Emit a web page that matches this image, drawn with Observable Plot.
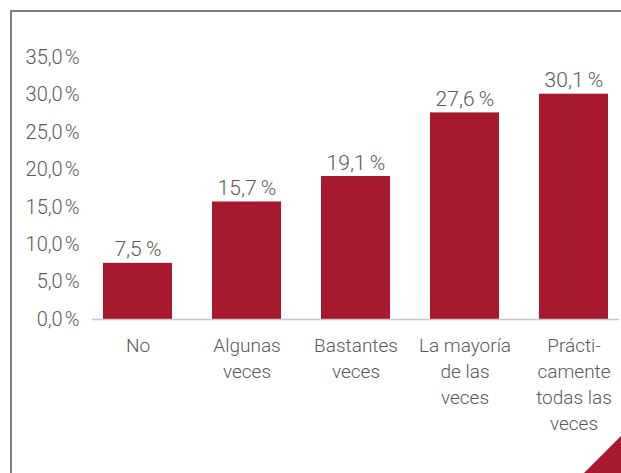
<!DOCTYPE html>
<html>
<head>
<meta charset="utf-8">
<script src="https://cdn.jsdelivr.net/npm/d3@7"></script>
<script src="https://cdn.jsdelivr.net/npm/@observablehq/plot@0.6"></script>
<style>
  html, body { margin: 0; padding: 0; background: #fff; }
  #wrap { position: relative; width: 621px; height: 473px; overflow: hidden; }
  #frame { position: absolute; left: 10px; top: 10px; right: -5px; bottom: -5px;
           border-left: 2px solid #7f7f7f; border-top: 2px solid #7f7f7f; }
  #chart { position: absolute; left: 0; top: 0; }
  svg text { font-family: Roboto, "Liberation Sans", sans-serif; font-weight: 300; }
</style>
</head>
<body>
<div id="wrap"><div id="frame"></div><div id="chart"></div></div>
<script>
const categories = ["No", "Algunas\nveces", "Bastantes\nveces", "La mayoría\nde las\nveces", "Prácti-\ncamente\ntodas las\nveces"];
const values = [7.5, 15.7, 19.1, 27.6, 30.1];
const yTicks = [0, 5, 10, 15, 20, 25, 30, 35];

const data = categories.map((c, i) => ({category: c, value: values[i]}));
const fmtTick = d => d.toFixed(1).replace(".", ",") + "\u200a%";
const fmtLabel = d => d.toFixed(1).replace(".", ",") + "\u2009%";

const chart = Plot.plot({
  width: 621,
  height: 473,
  marginTop: 57,
  marginBottom: 154,
  marginLeft: 92,
  marginRight: 2,
  style: {fontSize: "17px", color: "#595959", background: "transparent"},
  x: {domain: categories, paddingInner: 0.367, paddingOuter: 0.1, label: null},
  y: {domain: [0, 35], label: null},
  marks: [
    Plot.barY(data, {x: "category", y: "value", fill: "#A6192E"}),
    Plot.ruleY([0], {stroke: "#c8c8c8", strokeWidth: 1.5}),
    Plot.text(data, {x: "category", y: "value", text: d => fmtLabel(d.value), dy: -7, lineAnchor: "bottom", fill: "#595959", fontSize: 21}),
    Plot.axisY({ticks: yTicks, tickFormat: fmtTick, tickSize: 0, tickPadding: 13, fill: "#595959", fontSize: 20}),
    Plot.axisX({tickSize: 0, tickPadding: 14, fill: "#595959", fontSize: 19, lineHeight: 1.37})
  ]
});
document.getElementById("chart").appendChild(chart);

d3.select(chart).append("polygon")
  .attr("points", "583,474 622,435 622,474")
  .attr("fill", "#A6192E");
</script>
</body>
</html>
